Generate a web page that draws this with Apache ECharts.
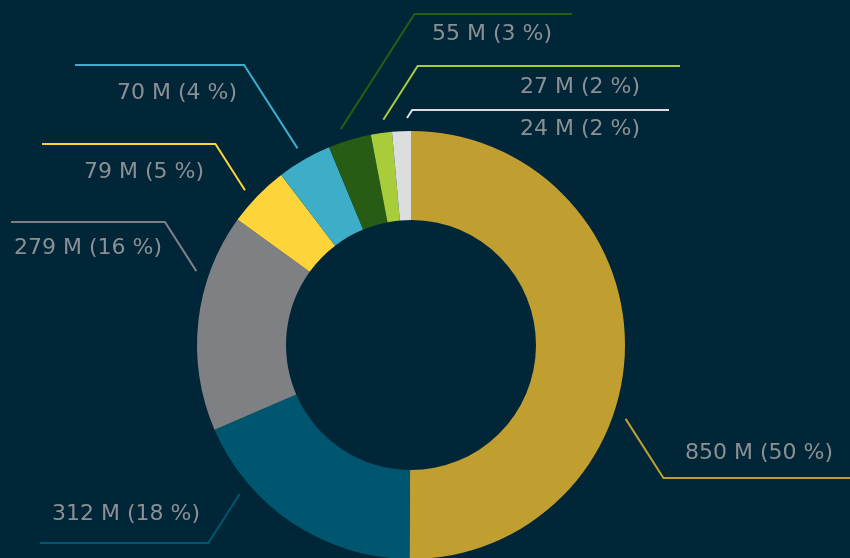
<!DOCTYPE html>
<html>
<head>
<meta charset="utf-8">
<script src="https://cdn.jsdelivr.net/npm/echarts@6/dist/echarts.min.js"></script>
<style>
  html, body { margin: 0; padding: 0; background: #012638; }
  #chart { width: 850px; height: 558px; }
</style>
</head>
<body>
<div id="chart"></div>
<script>
const values = [850, 312, 279, 79, 70, 55, 27, 24]
const percents = [50, 18, 16, 5, 4, 3, 2, 2]
const colors = ['#c09e30', '#00566f', '#7f8084', '#fed43b', '#3eadc8', '#285b14', '#a9cd3a', '#dcddde']

// leader lines: angle where the line leaves the ring (deg, clockwise from 12 o'clock),
// height of the horizontal run, where it stops, and where the text sits
const guides = [
  { angle: 109, lineY: 478, endX: 850, textX: 833, align: 'right', dy: -25 },
  { angle: 229, lineY: 543, endX: 40, textX: 200, align: 'right', dy: -29 },
  { angle: 289, lineY: 222, endX: 11, textX: 162, align: 'right', dy: 26 },
  { angle: 313, lineY: 144, endX: 42, textX: 204, align: 'right', dy: 28 },
  { angle: 330, lineY: 65, endX: 75, textX: 237, align: 'right', dy: 28 },
  { angle: 342, lineY: 14, endX: 572, textX: 432, align: 'left', dy: 20 },
  { angle: 353, lineY: 66, endX: 680, textX: 640, align: 'right', dy: 21 },
  { angle: 359, lineY: 110, endX: 669, textX: 640, align: 'right', dy: 19 }
]

const cx = 411
const cy = 345
const leadR = 227

const chart = echarts.init(document.getElementById('chart'))

chart.setOption({
  backgroundColor: '#012638',
  animation: false,
  series: [
    {
      type: 'pie',
      center: [cx, cy],
      radius: [125, 214],
      startAngle: 90,
      clockwise: true,
      avoidLabelOverlap: false,
      minShowLabelAngle: 0,
      data: values.map((v, i) => ({
        value: v,
        itemStyle: { color: colors[i] }
      })),
      label: {
        show: true,
        position: 'outside',
        color: '#8c8f93',
        fontFamily: 'DejaVu Sans',
        fontSize: 22,
        formatter: p => values[p.dataIndex] + ' M (' + percents[p.dataIndex] + ' %)'
      },
      labelLine: {
        show: true,
        smooth: false,
        lineStyle: { width: 2 }
      },
      labelLayout(params) {
        const g = guides[params.dataIndex]
        const a = g.angle * Math.PI / 180
        const sx = cx + leadR * Math.sin(a)
        const sy = cy - leadR * Math.cos(a)
        const side = g.endX > sx ? 1 : -1
        const ex = sx + side * Math.abs(g.lineY - sy) * 0.64
        return {
          x: g.textX,
          y: g.lineY + g.dy,
          align: g.align,
          verticalAlign: 'middle',
          labelLinePoints: [[sx, sy], [ex, g.lineY], [g.endX, g.lineY]]
        }
      },
      emphasis: { disabled: true }
    }
  ]
})
</script>
</body>
</html>
